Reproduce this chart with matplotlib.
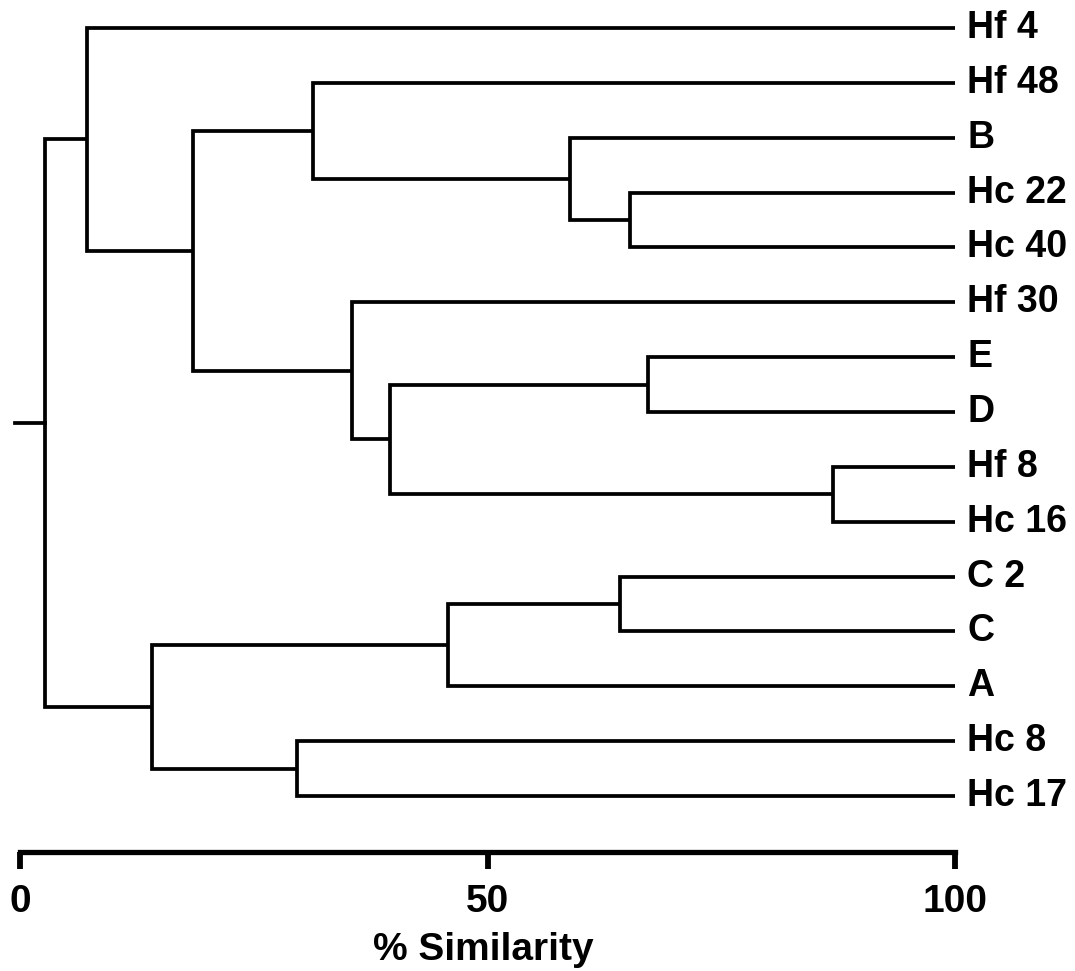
import matplotlib
matplotlib.use("Agg")
import matplotlib.pyplot as plt

plt.rcParams['font.family'] = ['Liberation Sans', 'DejaVu Sans']
plt.rcParams['font.weight'] = 'bold'

# leaves, top to bottom
leaves = ["Hf 4", "Hf 48", "B", "Hc 22", "Hc 40", "Hf 30", "E", "D",
          "Hf 8", "Hc 16", "C 2", "C", "A", "Hc 8", "Hc 17"]

# merges: (left child, right child, % similarity); ints refer to earlier merges
merge_left = ["Hc 22", "B", "Hf 48", "E", "Hf 8", 3, "Hf 30", 2, "Hf 4", "C 2", 9, "Hc 8", 10, 8]
merge_right = ["Hc 40", 0, 1, "D", "Hc 16", 4, 5, 6, 7, "C", "A", "Hc 17", 11, 12]
merge_sim = [65.2, 58.8, 31.3, 67.2, 87.0, 39.6, 35.5, 18.5, 7.2, 64.2, 45.8, 29.6, 14.1, 2.7]

ticks = [0, 50, 100]

W, H = 1075, 971
fig = plt.figure(figsize=(W / 100, H / 100), dpi=100)

# pixel layout
px0, px100 = 20, 955          # x pixels of 0 and 100
leaf_top, leaf_bot = 28, 796  # y pixels of first and last leaf
axis_y = 852                  # y pixel of the scale line
xmin, xmax = -1.5, 100.5
sx = (px100 - px0) / 100.0
sy = (leaf_bot - leaf_top) / (len(leaves) - 1)
left_px = px0 + (xmin - 0) * sx
right_px = px0 + xmax * sx
ax = fig.add_axes([left_px / W, 1 - axis_y / H, (right_px - left_px) / W, axis_y / H])
ax.set_xlim(xmin, xmax)
ax.set_ylim(len(leaves) - 1 + (axis_y - leaf_bot) / sy, -leaf_top / sy)

pos = {}
for i, name in enumerate(leaves):
    pos[name] = (100.0, i)

lw = 2.7
for k in range(len(merge_sim)):
    xa, ya = pos[merge_left[k]]
    xb, yb = pos[merge_right[k]]
    xm = merge_sim[k]
    ax.plot([xa, xm, xm, xb], [ya, ya, yb, yb], color='black', lw=lw,
            solid_joinstyle='miter', solid_capstyle='butt')
    pos[k] = (xm, (ya + yb) / 2.0)

# root stub
rx, ry = pos[len(merge_sim) - 1]
ax.plot([-0.5, rx], [ry, ry], color='black', lw=lw, clip_on=False)

for i, name in enumerate(leaves):
    ax.text(101.3, i, name, ha='left', va='center', fontsize=27,
            fontweight='bold', clip_on=False)

for s in ['top', 'right', 'left']:
    ax.spines[s].set_visible(False)
ax.spines['bottom'].set_linewidth(3.8)
ax.spines['bottom'].set_bounds(0, 100)
ax.set_yticks([])
ax.set_xticks(ticks)
ax.set_xticklabels([str(t) for t in ticks], fontsize=28, fontweight='bold')
ax.tick_params(axis='x', length=12, width=4.2, pad=11, direction='out')
ax.set_xlabel('% Similarity', fontsize=28, fontweight='bold', labelpad=9)

fig.savefig('out.png', dpi=100)
